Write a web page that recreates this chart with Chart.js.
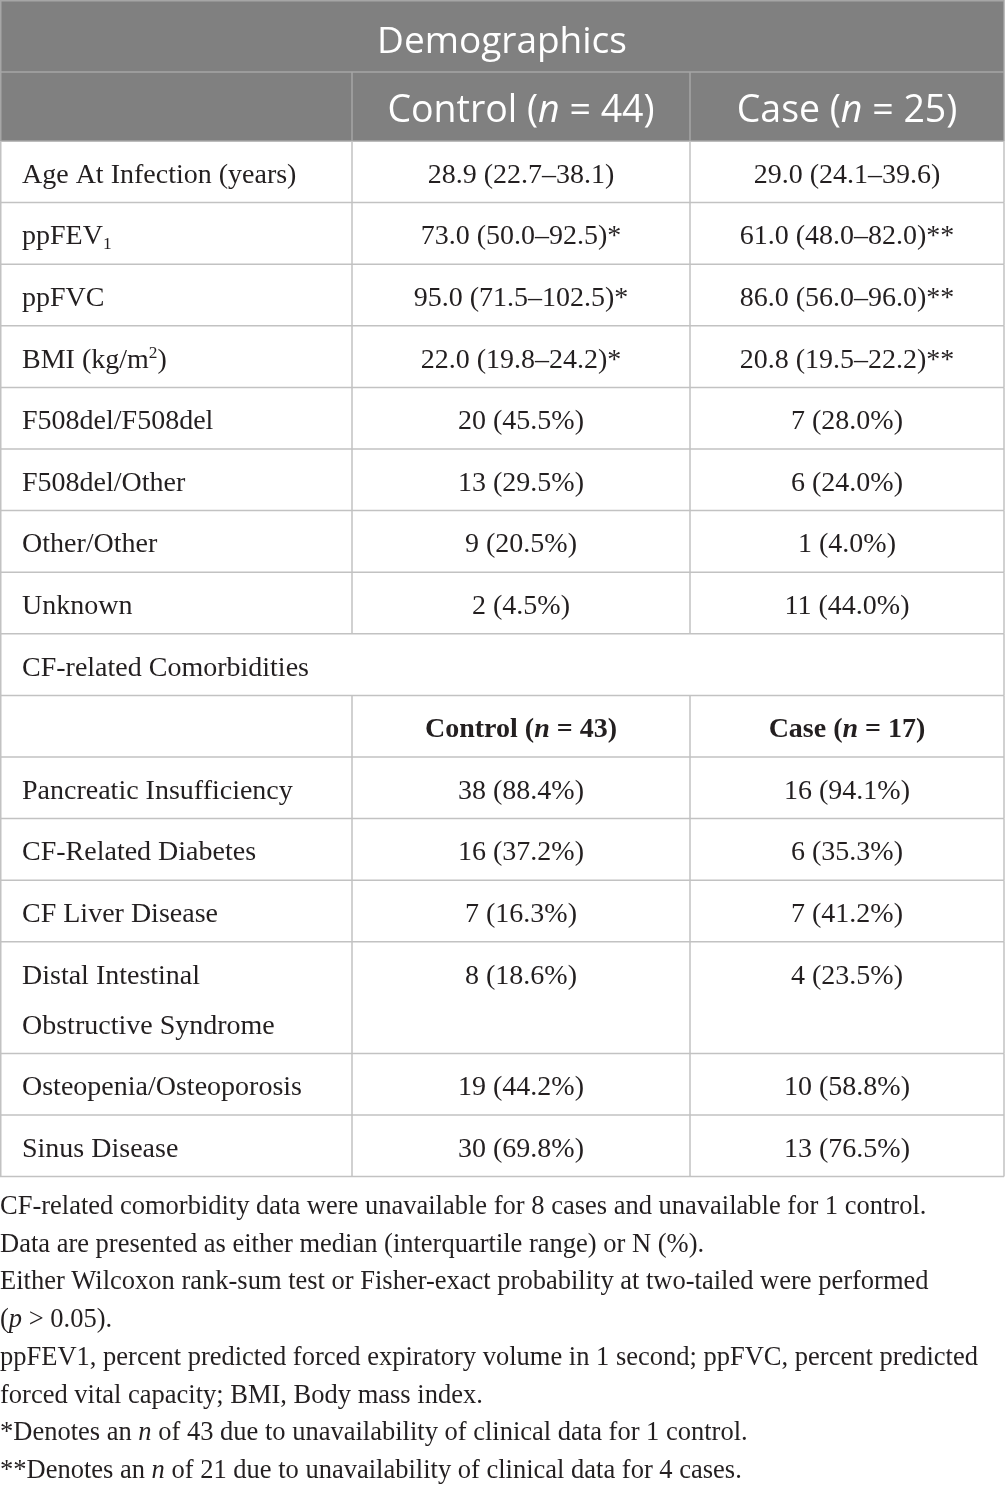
<!DOCTYPE html>
<html>
<head>
<meta charset="utf-8">
<script src="https://cdn.jsdelivr.net/npm/chart.js@4.4.1/dist/chart.umd.min.js"></script>
<style>
  html, body { margin: 0; padding: 0; background: #fff; }
</style>
</head>
<body>
<canvas id="myChart" width="1005" height="1492"></canvas>
<script>
// --- table content ---
const tableTitle = "Demographics";
const mainHeader = ["", "Control (<i>n</i> = 44)", "Case (<i>n</i> = 25)"];

const rowLabels = [
  "Age At Infection (years)",
  "ppFEV<sub>1</sub>",
  "ppFVC",
  "BMI (kg/m<sup>2</sup>)",
  "F508del/F508del",
  "F508del/Other",
  "Other/Other",
  "Unknown",
];
const controlValues = [
  "28.9 (22.7–38.1)",
  "73.0 (50.0–92.5)*",
  "95.0 (71.5–102.5)*",
  "22.0 (19.8–24.2)*",
  "20 (45.5%)",
  "13 (29.5%)",
  "9 (20.5%)",
  "2 (4.5%)",
];
const caseValues = [
  "29.0 (24.1–39.6)",
  "61.0 (48.0–82.0)**",
  "86.0 (56.0–96.0)**",
  "20.8 (19.5–22.2)**",
  "7 (28.0%)",
  "6 (24.0%)",
  "1 (4.0%)",
  "11 (44.0%)",
];

const sectionLabel = "CF-related Comorbidities";
const subHeader = ["", "Control (<i>n</i> = 43)", "Case (<i>n</i> = 17)"];

const comorbidLabels = [
  "Pancreatic Insufficiency",
  "CF-Related Diabetes",
  "CF Liver Disease",
  "Distal Intestinal\nObstructive Syndrome",
  "Osteopenia/Osteoporosis",
  "Sinus Disease",
];
const comorbidControl = ["38 (88.4%)", "16 (37.2%)", "7 (16.3%)", "8 (18.6%)", "19 (44.2%)", "30 (69.8%)"];
const comorbidCase = ["16 (94.1%)", "6 (35.3%)", "7 (41.2%)", "4 (23.5%)", "10 (58.8%)", "13 (76.5%)"];

const footnotes = [
  "CF-related comorbidity data were unavailable for 8 cases and unavailable for 1 control.",
  "Data are presented as either median (interquartile range) or N (%).",
  "Either Wilcoxon rank-sum test or Fisher-exact probability at two-tailed were performed",
  "(<i>p</i> > 0.05).",
  "ppFEV1, percent predicted forced expiratory volume in 1 second; ppFVC, percent predicted",
  "forced vital capacity; BMI, Body mass index.",
  "*Denotes an <i>n</i> of 43 due to unavailability of clinical data for 1 control.",
  "**Denotes an <i>n</i> of 21 due to unavailability of clinical data for 4 cases.",
];

// --- layout / style ---
const W = 1005, H = 1492;
const colEdges = [0, 352, 690, 1004];
const titleH = 72, headH = 69, rowH = 61.6, extraLineH = 50;
const padLeft = 22;
const noteTop = 1214, noteLineH = 37.7;

const grey = "#808080";
const ruleBody = "#c2c2c2";
const ruleHead = "#a6a6a6";
const ink = "#231f20";
const sans = '"Open Sans", sans-serif';
const serif = '"Liberation Serif", serif';
const bodySize = 28, noteSize = 26.5;

// rows of the table, built from the arrays above
const rows = [];
rows.push({ kind: "title", h: titleH, cells: [tableTitle] });
rows.push({ kind: "head", h: headH, cells: mainHeader });
rowLabels.forEach((l, i) => {
  rows.push({ kind: "body", h: rowH, cells: [l, controlValues[i], caseValues[i]] });
});
rows.push({ kind: "section", h: rowH, cells: [sectionLabel] });
rows.push({ kind: "sub", h: rowH, cells: subHeader });
comorbidLabels.forEach((l, i) => {
  const nLines = l.split("\n").length;
  rows.push({ kind: "body", h: rowH + (nLines - 1) * extraLineH, cells: [l, comorbidControl[i], comorbidCase[i]] });
});

// tiny markup: <i>, <sub>, <sup>
const parseRich = (s) => {
  const out = [];
  const re = /<(i|sub|sup)>(.*?)<\/\1>/g;
  let last = 0, m;
  while ((m = re.exec(s))) {
    if (m.index > last) out.push({ t: s.slice(last, m.index), k: "" });
    out.push({ t: m[2], k: m[1] });
    last = re.lastIndex;
  }
  if (last < s.length) out.push({ t: s.slice(last), k: "" });
  return out;
};

const drawRich = (ctx, s, x, y, align, size, family, weight, color) => {
  const segs = parseRich(s);
  const fontFor = (k) => {
    const sz = k === "sub" || k === "sup" ? size * 0.62 : size;
    return (k === "i" ? "italic " : "") + weight + " " + sz + "px " + family;
  };
  let total = 0;
  segs.forEach((g) => {
    ctx.font = fontFor(g.k);
    g.w = ctx.measureText(g.t).width;
    total += g.w;
  });
  let cx = align === "center" ? x - total / 2 : x;
  ctx.fillStyle = color;
  ctx.textAlign = "left";
  ctx.textBaseline = "alphabetic";
  segs.forEach((g) => {
    ctx.font = fontFor(g.k);
    const dy = g.k === "sub" ? size * 0.16 : g.k === "sup" ? -size * 0.36 : 0;
    ctx.fillText(g.t, cx, y + dy);
    cx += g.w;
  });
};

const line = (ctx, x1, y1, x2, y2, color) => {
  ctx.strokeStyle = color;
  ctx.lineWidth = 1.5;
  ctx.beginPath();
  ctx.moveTo(x1, y1);
  ctx.lineTo(x2, y2);
  ctx.stroke();
};

// plugin drawing the table through the chart's scales
const tablePlugin = {
  id: "table",
  afterDraw(chart) {
    const ctx = chart.ctx;
    const sx = chart.scales.x, sy = chart.scales.y;
    const px = (v) => sx.getPixelForValue(v);
    const py = (v) => sy.getPixelForValue(v);
    const cols = colEdges.map(px);
    const left = cols[0], right = cols[cols.length - 1];
    ctx.save();

    let y = 0;
    rows.forEach((row) => {
      const top = py(y), bot = py(y + row.h);
      if (row.kind === "title" || row.kind === "head") {
        ctx.fillStyle = grey;
        ctx.fillRect(left, top, right - left, bot - top);
      }
      y += row.h;
    });

    // rules
    y = 0;
    line(ctx, left, py(0) + 0.75, right, py(0) + 0.75, ruleHead);
    rows.forEach((row) => {
      const top = py(y), bot = py(y + row.h);
      const isHead = row.kind === "title" || row.kind === "head";
      const c = isHead ? ruleHead : ruleBody;
      line(ctx, left, bot, right, bot, c);
      line(ctx, left + 0.75, top, left + 0.75, bot, c);
      line(ctx, right, top, right, bot, c);
      if (row.kind !== "title" && row.kind !== "section") {
        for (let i = 1; i < cols.length - 1; i++) line(ctx, cols[i], top, cols[i], bot, c);
      }
      y += row.h;
    });

    // text
    y = 0;
    rows.forEach((row) => {
      const mid = py(y + rowH / 2);
      if (row.kind === "title") {
        drawRich(ctx, row.cells[0], (left + right) / 2, py(y + row.h / 2) + 17, "center", 37, sans, 400, "#fff");
      } else if (row.kind === "head") {
        for (let i = 1; i < 3; i++) {
          drawRich(ctx, row.cells[i], (cols[i] + cols[i + 1]) / 2, py(y + row.h / 2) + 15.5, "center", 37.5, sans, 400, "#fff");
        }
      } else if (row.kind === "section") {
        drawRich(ctx, row.cells[0], left + padLeft, mid + 11, "left", bodySize, serif, 400, ink);
      } else {
        const bold = row.kind === "sub" ? 700 : 400;
        row.cells[0].split("\n").forEach((t, k) => {
          if (t) drawRich(ctx, t, left + padLeft, mid + 11 + k * extraLineH, "left", bodySize, serif, bold, ink);
        });
        for (let i = 1; i < 3; i++) {
          drawRich(ctx, row.cells[i], (cols[i] + cols[i + 1]) / 2, mid + 11, "center", bodySize, serif, bold, ink);
        }
      }
      y += row.h;
    });

    // notes under the table
    footnotes.forEach((t, i) => {
      drawRich(ctx, t, left, py(noteTop + i * noteLineH), "left", noteSize, serif, 400, ink);
    });
    ctx.restore();
  },
};

const chartParams = {
  type: "scatter",
  data: { datasets: [] },
  options: {
    responsive: false,
    animation: false,
    events: [],
    layout: { padding: 0 },
    plugins: { legend: { display: false }, tooltip: { enabled: false } },
    scales: {
      x: { type: "linear", min: 0, max: W, display: false },
      y: { type: "linear", min: 0, max: H, reverse: true, display: false },
    },
  },
  plugins: [tablePlugin],
};

const ctx = document.getElementById("myChart").getContext("2d");
const myChart = new Chart(ctx, chartParams);
</script>
</body>
</html>
